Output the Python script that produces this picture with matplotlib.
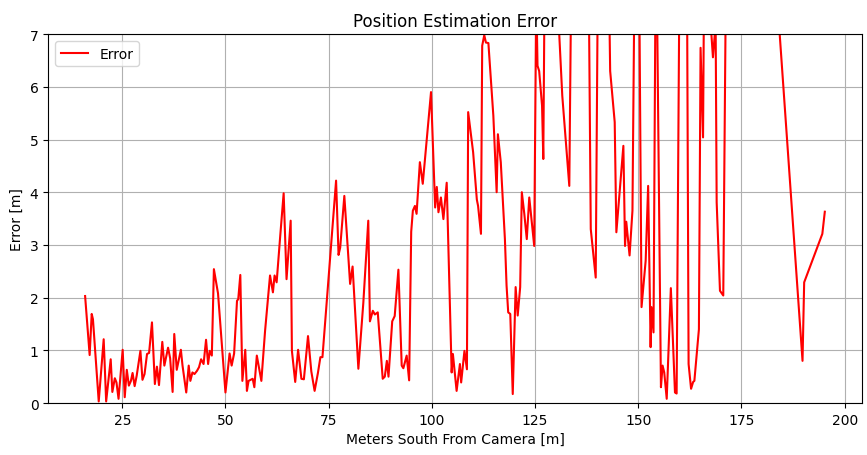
import numpy as np
import matplotlib
matplotlib.use("Agg")
import matplotlib.pyplot as plt

# distance south of camera [m] (values above 7 are clipped by the axis)
dist = [16.0, 17.1, 17.6, 17.9, 19.3, 20.5, 21.1, 22.2, 22.6, 23.2,
        23.6, 24.1, 25.1, 25.6, 26.1, 26.6, 27.1, 27.5, 28.0, 28.5,
        29.4, 29.9, 30.4, 31.0, 31.5, 32.2, 32.9, 33.4, 33.9, 34.7,
        35.2, 36.1, 36.6, 37.2, 37.6, 38.2, 39.2, 39.6, 40.5, 41.1,
        41.5, 42.0, 42.5, 43.1, 43.6, 44.1, 44.7, 45.3, 45.8, 46.2,
        46.7, 47.2, 48.2, 50.0, 51.0, 51.5, 52.1, 52.8, 53.1, 53.6,
        54.1, 54.8, 55.2, 55.6, 56.6, 57.0, 57.6, 58.7, 59.6, 60.8,
        61.5, 61.9, 62.4, 63.3, 64.1, 64.8, 65.8, 66.1, 66.9, 67.6,
        68.4, 69.0, 70.0, 70.8, 71.6, 72.4, 73.0, 73.5, 75.0, 76.8,
        77.4, 77.8, 78.8, 80.2, 80.8, 82.2, 83.4, 84.6, 85.0, 85.7,
        86.2, 86.9, 88.1, 88.6, 89.1, 89.5, 90.4, 91.0, 91.9, 92.7,
        93.1, 93.9, 94.5, 95.0, 95.4, 95.9, 96.3, 97.1, 97.8, 99.8,
        100.8, 101.2, 101.6, 102.2, 102.8, 103.6, 104.8, 105.1, 106.0, 106.8,
        107.1, 107.9, 108.5, 108.8, 110.0, 110.9, 111.2, 111.9, 112.2, 112.7,
        113.1, 113.7, 114.9, 115.7, 116.0, 116.7, 117.7, 118.1, 118.5, 119.0,
        119.6, 120.3, 120.8, 121.4, 121.8, 122.4, 123.0, 123.6, 124.3, 124.8,
        125.3, 125.6, 126.0, 126.7, 127.0, 127.7, 131.6, 133.3, 134.0, 137.9,
        138.5, 139.7, 140.3, 142.8, 143.2, 144.3, 144.7, 146.4, 146.8, 147.1,
        147.9, 148.6, 149.2, 150.1, 150.8, 151.8, 152.4, 153.0, 153.2, 153.7,
        154.3, 155.5, 155.9, 156.3, 156.9, 157.9, 158.9, 159.3, 160.5, 161.5,
        162.2, 162.8, 163.3, 163.6, 164.7, 165.1, 165.7, 166.2, 167.2, 168.1,
        168.75, 169.0, 169.8, 170.6, 171.4, 176.0, 181.5, 189.8, 190.2, 194.6,
        195.2]

error = [2.03, 0.91, 1.69, 1.59, 0.03, 1.21, 0.03, 0.83, 0.21, 0.47,
         0.39, 0.08, 1.01, 0.11, 0.63, 0.33, 0.42, 0.57, 0.32, 0.52,
         0.99, 0.44, 0.55, 0.93, 0.95, 1.53, 0.36, 0.69, 0.34, 1.16,
         0.71, 1.05, 0.85, 0.21, 1.31, 0.63, 1.01, 0.71, 0.20, 0.71,
         0.42, 0.58, 0.55, 0.61, 0.68, 0.83, 0.74, 1.20, 0.74, 0.99,
         0.90, 2.54, 2.08, 0.20, 0.94, 0.71, 0.94, 1.94, 1.97, 2.43,
         0.42, 1.01, 0.23, 0.42, 0.46, 0.30, 0.90, 0.42, 1.37, 2.42,
         2.10, 2.42, 2.29, 3.20, 3.98, 2.35, 3.46, 0.99, 0.40, 1.01,
         0.46, 0.45, 1.27, 0.60, 0.23, 0.57, 0.87, 0.87, 2.40, 4.22,
         2.81, 2.95, 3.93, 2.26, 2.59, 0.65, 1.90, 3.46, 1.55, 1.75,
         1.68, 1.72, 0.46, 0.50, 0.80, 0.50, 1.55, 1.65, 2.53, 0.71,
         0.66, 0.90, 0.43, 3.25, 3.65, 3.74, 3.59, 4.57, 4.16, 5.90,
         3.71, 4.10, 3.62, 3.90, 3.49, 4.18, 0.58, 0.93, 0.23, 0.74,
         0.39, 0.99, 0.64, 5.52, 4.76, 3.86, 3.74, 3.21, 6.78, 6.98,
         6.84, 6.83, 5.45, 4.00, 5.10, 4.57, 3.11, 2.23, 1.72, 1.69,
         0.17, 2.20, 1.66, 2.20, 4.00, 3.59, 3.11, 3.90, 3.36, 2.98,
         7.80, 6.40, 6.30, 5.64, 4.63, 12.0, 5.83, 4.12, 10.0, 9.0,
         3.30, 2.38, 9.0, 8.5, 6.30, 5.33, 3.24, 4.88, 2.98, 3.44,
         2.80, 3.65, 9.0, 9.5, 1.82, 2.70, 4.12, 1.06, 1.82, 1.34,
         9.5, 0.30, 0.71, 0.58, 0.08, 2.18, 0.20, 0.18, 14.0, 14.0,
         0.74, 0.27, 0.40, 0.42, 1.40, 6.74, 5.04, 11.0, 7.6, 6.56,
         7.2, 3.81, 2.13, 2.04, 9.5, 12.0, 10.1, 0.80, 2.29, 3.21,
         3.63]

fig, ax = plt.subplots(figsize=(8.67, 4.56), dpi=100)
plt.subplots_adjust(left=0.0555, right=0.994, top=0.923, bottom=0.114)

ax.plot(dist, error, color='red', linewidth=1.5, label='Error')
ax.set_ylim(0, 7)
ax.set_title('Position Estimation Error')
ax.set_xlabel('Meters South From Camera [m]')
ax.set_ylabel('Error [m]')
ax.grid(True)
ax.legend(loc='upper left')

plt.savefig('out.png', dpi=100)
